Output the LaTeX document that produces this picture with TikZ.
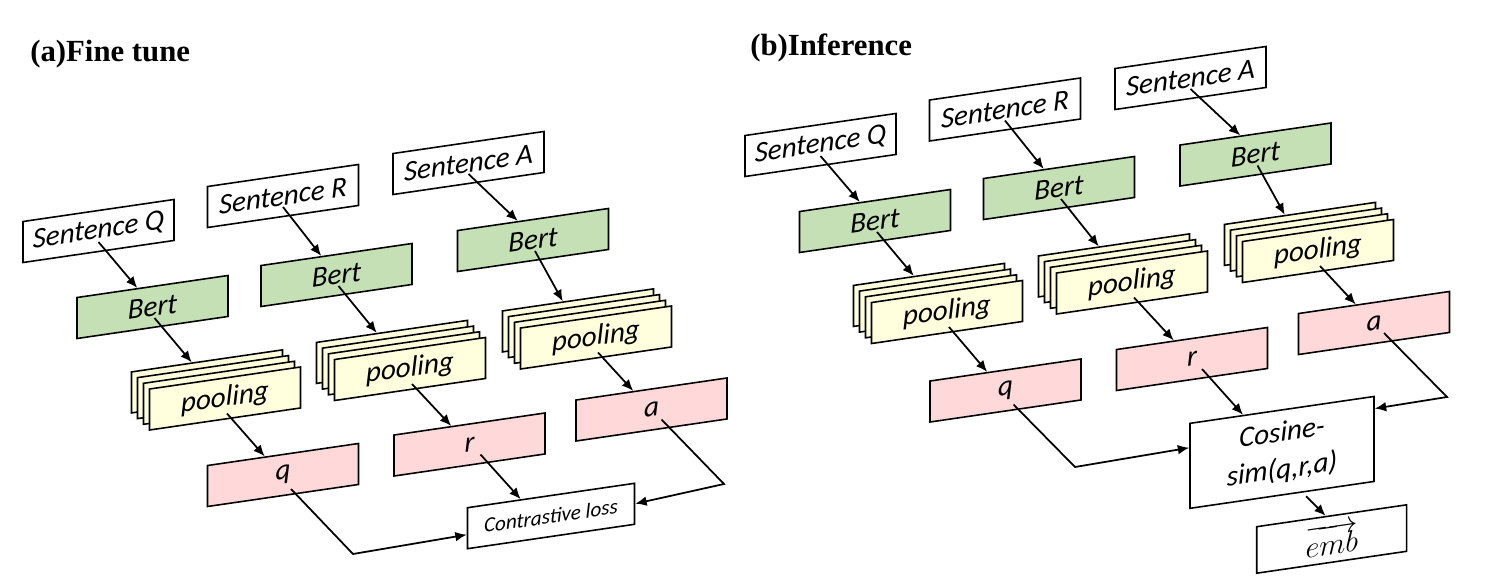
\documentclass[tikz,border=0pt]{standalone}
\usepackage{fontspec}
\setmainfont{Carlito}
\newfontfamily\titlefont{Liberation Serif}
\usetikzlibrary{calc,arrows.meta}

\definecolor{bertgreen}{HTML}{C5E0B4}
\definecolor{poolyellow}{HTML}{FFFFDD}
\definecolor{vecpink}{HTML}{FFD9D9}

\begin{document}
\begin{tikzpicture}[x=0.02cm,y=-0.02cm,
    box/.style={draw,line width=0.9pt,yslant=0.146,inner sep=0pt,minimum width=3.02cm,minimum height=0.82cm,font=\itshape\fontsize{16.5}{19}\selectfont},
    bert/.style={box,fill=bertgreen},
    card/.style={box,fill=poolyellow},
    vec/.style={box,fill=vecpink},
    conn/.style={line width=1pt,-{Latex[length=6.5pt,width=5.5pt]}},
    title/.style={anchor=base west,inner sep=0pt,font=\titlefont\bfseries\fontsize{17.5}{21}\selectfont}]
    \useasboundingbox (0,0) rectangle (1490,587);

    %titles
    \node[title] (ta) at (30,62) {(a)Fine tune};
    \node[title] (tb) at (750,56) {(b)Inference};

    %fine tune
    \node[box] (SQa) at (98.5,231) {Sentence Q};
    \node[box] (SRa) at (283,196) {Sentence R};
    \node[box] (SAa) at (468.5,163) {Sentence A};
    \node[bert] (BQa) at (152.5,307) {Bert};
    \node[bert] (BRa) at (336.5,275) {Bert};
    \node[bert] (BAa) at (533,240) {Bert};
    \node[vec] (VQa) at (283,475) {q};
    \node[vec] (VRa) at (469.5,444.5) {r};
    \node[vec] (VAa) at (651.5,409.5) {a};
    \node[box,minimum width=3.34cm,font=\itshape\fontsize{12}{14}\selectfont] (CL) at (551,516) {Contrastive loss};

    %inference
    \node[box] (SQb) at (820.5,145) {Sentence Q};
    \node[box] (SRb) at (1005,109.5) {Sentence R};
    \node[box] (SAb) at (1190.5,78) {Sentence A};
    \node[bert] (BQb) at (875,221) {Bert};
    \node[bert] (BRb) at (1059,188) {Bert};
    \node[bert] (BAb) at (1255.5,154.5) {Bert};
    \node[vec] (VQb) at (1005.5,390.5) {q};
    \node[vec] (VRb) at (1192,359) {r};
    \node[vec] (VAb) at (1374,323) {a};
    \node[box,minimum width=3.68cm,minimum height=1.7cm,align=center,font=\itshape\fontsize{16.5}{21}\selectfont] (COS) at (1282,452.4) {Cosine-\\sim(q,r,a)};
    \node[box,minimum width=3cm,minimum height=0.93cm,font=\fontsize{18}{20}\selectfont] (EMB) at (1331.7,539) {$\overrightarrow{emb}$};

    %pooling stacks
    \foreach \nm/\px/\py in {PQa/225/398.5, PRa/410/369, PAa/596/337.5, PQb/947/312, PRb/1132/282.5, PAb/1318/251}{
        \foreach \k in {3,2,1}
            \node[card] (\nm\k) at ({\px-6*\k},{\py-5.7*\k}) {};
        \node[card] (\nm) at (\px,\py) {pooling};
    }

    %columns
    \foreach \c in {Qa,Ra,Aa,Qb,Rb,Ab}{
        \draw[conn] ($(S\c)+(0,11)$) -- ($(B\c.north west)!0.4!(B\c.north east)$);
        \draw[conn] ($(B\c)+(2,11)$) -- ($(P\c3.north west)!0.4!(P\c3.north east)$);
        \draw[conn] ($(P\c)+(2,15)$) -- ($(V\c.north west)!0.38!(V\c.north east)$);
    }

    %into the loss
    \coordinate (qbenda) at (353,554);
    \coordinate (abenda) at (724,484);
    \draw[conn] ($(VQa)+(8,14)$) -- (qbenda) -- ($(CL.north west)!0.65!(CL.south west)$);
    \draw[conn] ($(VRa)+(11,10)$) -- ($(CL.north west)!0.32!(CL.north east)$);
    \draw[conn] ($(VAa)+(10,10)$) -- (abenda) -- (CL.east);

    %into the similarity
    \coordinate (qbendb) at (1075,467);
    \coordinate (abendb) at (1447,397);
    \draw[conn] ($(VQb)+(8,14)$) -- (qbendb) -- ($(COS.north west)!0.29!(COS.south west)$);
    \draw[conn] ($(VRb)+(10,10)$) -- ($(COS.north west)!0.29!(COS.north east)$);
    \draw[conn] ($(VAb)+(10,10)$) -- (abendb) -- ($(COS.north east)!0.15!(COS.south east)$);
    \draw[conn] ($(COS.south west)!0.63!(COS.south east)+(0,4)$) -- ($(EMB.north west)!0.46!(EMB.north east)$);
\end{tikzpicture}
\end{document}
